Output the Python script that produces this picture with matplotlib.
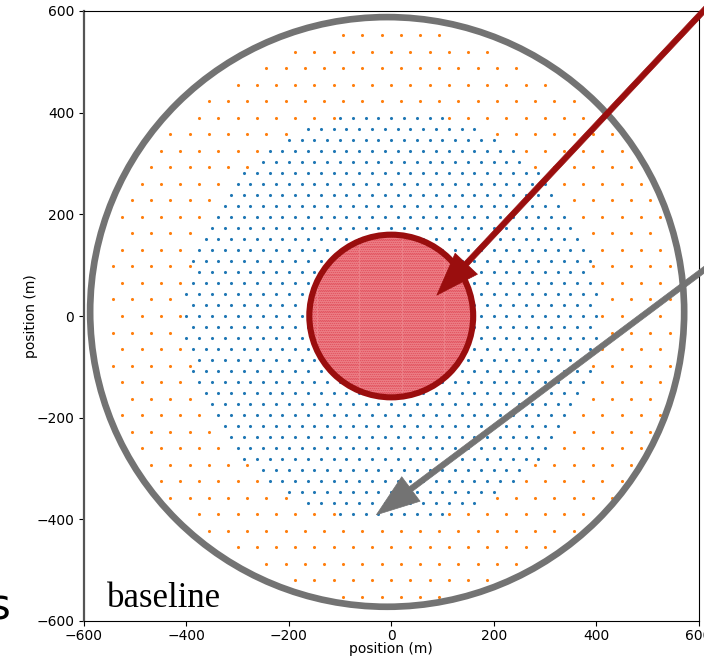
import numpy as np
import matplotlib.pyplot as plt
from matplotlib.patches import Circle

# array layout, metres
core_spacing = 25.0      # blue hex grid
outer_spacing = 37.5     # orange hex grid
dense_spacing = 4.0      # fine grid under the red disc
core_radius = 404.0
outer_radius = 560.0
target_radius = 160.0
fence_radius = 580.0
fence_centre = (-8, 8)

# arrows: (tip, tail) in data coords, tails sit outside the axes
red_tip, red_tail = (89, 41), (700, 697)
grey_tip, grey_tail = (-29, -391), (700, 158)

ticks = [-600, -400, -200, 0, 200, 400, 600]

dark_red = '#9a0e0e'
grey = '#737373'


def hex_grid(spacing, r_max, r_min=-1.0):
    dy = spacing * np.sqrt(3) / 2
    n = int(r_max / dy) + 1
    m = int(r_max / spacing) + 2
    pts = []
    for k in range(-n, n + 1):
        off = spacing / 2 if k % 2 else 0.0
        xs = np.arange(-m, m + 1) * spacing + off
        pts.append(np.column_stack([xs, np.full_like(xs, k * dy)]))
    pts = np.vstack(pts)
    r = np.hypot(pts[:, 0], pts[:, 1])
    return pts[(r <= r_max) & (r > r_min)]


core = hex_grid(core_spacing, core_radius)
outer = hex_grid(outer_spacing, outer_radius, core_radius)
dense = hex_grid(dense_spacing, target_radius)

fig = plt.figure(figsize=(7.04, 6.63), dpi=100)
ax = fig.add_axes([84 / 704, 42 / 663, 614.5 / 704, 610 / 663])

ax.scatter(core[:, 0], core[:, 1], s=5, color='tab:blue', lw=0, zorder=1)
ax.scatter(outer[:, 0], outer[:, 1], s=5, color='tab:orange', lw=0, zorder=1)

ax.add_patch(Circle(fence_centre, fence_radius, fill=False, ec=grey, lw=4.8, zorder=2))
ax.add_patch(Circle((0, 0), target_radius, fc='#ee848b', ec='none', zorder=3))
ax.scatter(dense[:, 0], dense[:, 1], s=1.2, color='#dc3c4a', lw=0, alpha=0.6, zorder=4)
ax.add_patch(Circle((0, 0), target_radius, fill=False, ec=dark_red, lw=4.4, zorder=5))

for tip, tail, c in [(red_tip, red_tail, dark_red), (grey_tip, grey_tail, grey)]:
    ax.annotate('', xy=tip, xytext=tail, annotation_clip=False, zorder=6,
                arrowprops=dict(width=4, headwidth=22, headlength=31, shrink=0,
                                fc=c, ec=c, lw=0.5))

ax.text(-555, -572, 'baseline', family='Liberation Serif', fontsize=25, zorder=7)
fig.text(10 / 704, 43 / 663, 's', ha='right', va='baseline', fontsize=30)

ax.set_xlim(-600, 600)
ax.set_ylim(-600, 600)
ax.set_xticks(ticks)
ax.set_yticks(ticks)
ax.tick_params(labelsize=10)
ax.tick_params(axis='x', pad=2.5)
ax.set_xlabel('position (m)', fontsize=10, labelpad=-1)
ax.set_ylabel('position (m)', fontsize=10, labelpad=-1)
ax.spines['left'].set_color('#555555')
ax.spines['left'].set_linewidth(1.6)

fig.savefig('out.png', dpi=100)
